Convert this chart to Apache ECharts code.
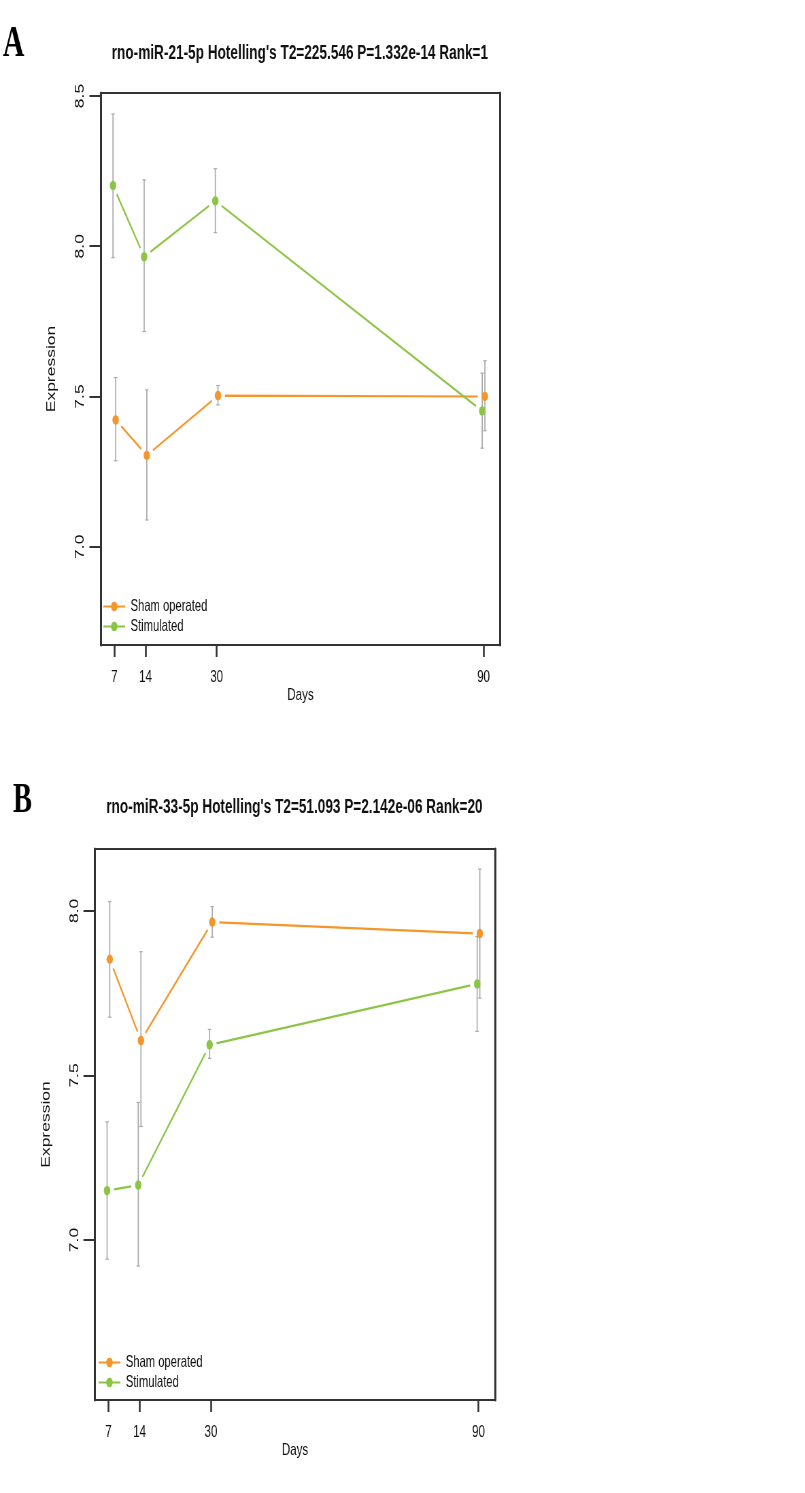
<!DOCTYPE html>
<html>
<head>
<meta charset="utf-8">
<script src="https://cdn.jsdelivr.net/npm/echarts@6/dist/echarts.min.js"></script>
<style>
html,body{margin:0;padding:0;overflow:hidden;background:#fff;width:805px;height:1493px;}
#chart{width:1184px;height:1493px;transform:scaleX(0.68);transform-origin:0 0;}
</style>
</head>
<body>
<div id="chart"></div>
<script>
// ---- data ----
const days = [7, 14, 30, 90];
const xTicks = [7, 14, 30, 90];
const seriesNames = ['Sham operated', 'Stimulated'];

const titleA = "rno-miR-21-5p Hotelling's T2=225.546 P=1.332e-14 Rank=1";
const titleB = "rno-miR-33-5p Hotelling's T2=51.093 P=2.142e-06 Rank=20";

const yTicksA = [7.0, 7.5, 8.0, 8.5];
const yTicksB = [7.0, 7.5, 8.0];

const shamA = [7.422, 7.304, 7.503, 7.500];
const shamA_lo = [7.286, 7.089, 7.472, 7.386];
const shamA_hi = [7.563, 7.522, 7.536, 7.619];
const stimA = [8.202, 7.965, 8.151, 7.452];
const stimA_lo = [7.962, 7.716, 8.045, 7.328];
const stimA_hi = [8.440, 8.221, 8.258, 7.578];

const shamB = [7.853, 7.606, 7.966, 7.931];
const shamB_lo = [7.677, 7.345, 7.920, 7.735];
const shamB_hi = [8.028, 7.876, 8.013, 8.127];
const stimB = [7.150, 7.167, 7.593, 7.778];
const stimB_lo = [6.942, 6.921, 7.552, 7.634];
const stimB_hi = [7.359, 7.418, 7.640, 7.922];

// ---- style ----
const ORANGE = '#F5962A';
const GREEN = '#8CC545';
const BAR = '#ababab';
const INK = '#111111';
const FRAME = '#333333';
const FONT = '"Liberation Sans", Arial, Helvetica, sans-serif';
const dodge = { 'Sham operated': 0.3, 'Stimulated': -0.3 };

const chart = echarts.init(document.getElementById('chart'), null, { renderer: 'canvas' });

function pts(name, vals) { return days.map((d, i) => [d + dodge[name], vals[i]]); }
function bars(name, lo, hi) { return days.map((d, i) => [d + dodge[name], lo[i], hi[i]]); }

function errRender(params, api) {
  const x = api.value(0);
  const p1 = api.coord([x, api.value(1)]);
  const p2 = api.coord([x, api.value(2)]);
  const c = 2.6;
  const st = { stroke: BAR, lineWidth: 1.7 };
  return { type: 'group', children: [
    { type: 'line', shape: { x1: p1[0], y1: p1[1], x2: p2[0], y2: p2[1] }, style: st },
    { type: 'line', shape: { x1: p1[0] - c, y1: p1[1], x2: p1[0] + c, y2: p1[1] }, style: { stroke: BAR, lineWidth: 1.2 } },
    { type: 'line', shape: { x1: p2[0] - c, y1: p2[1], x2: p2[0] + c, y2: p2[1] }, style: { stroke: BAR, lineWidth: 1.2 } }
  ]};
}

function panelSeries(idx, sham, shamLo, shamHi, stim, stimLo, stimHi) {
  const defs = [
    ['Sham operated', ORANGE, sham, shamLo, shamHi],
    ['Stimulated', GREEN, stim, stimLo, stimHi]
  ];
  const out = [];
  defs.forEach(([name, color, v]) => {
    out.push({
      type: 'line', name, xAxisIndex: idx, yAxisIndex: idx * 2, data: pts(name, v),
      color, symbol: 'circle', symbolSize: 14, z: 2,
      lineStyle: { color, width: 2.2 },
      itemStyle: { color, borderColor: '#ffffff', borderWidth: 7 },
      emphasis: { disabled: true }, silent: true, animation: false
    });
  });
  defs.forEach(([name, color, v, lo, hi]) => {
    out.push({
      type: 'custom', name, xAxisIndex: idx, yAxisIndex: idx * 2,
      data: bars(name, lo, hi), renderItem: errRender, z: 3,
      encode: { x: 0, y: [1, 2] }, silent: true, animation: false
    });
  });
  defs.forEach(([name, color, v]) => {
    out.push({
      type: 'scatter', name, xAxisIndex: idx, yAxisIndex: idx * 2, data: pts(name, v),
      symbol: 'circle', symbolSize: 9.5, z: 4, itemStyle: { color, opacity: 1 },
      emphasis: { disabled: true }, silent: true, animation: false
    });
  });
  return out;
}

function xAxisDef(idx) {
  return {
    type: 'value', gridIndex: idx, min: 4, max: 93.7,
    axisLine: { show: false },
    splitLine: { show: false },
    axisTick: { show: true, customValues: xTicks, length: 12, lineStyle: { color: FRAME, width: 2.6 } },
    axisLabel: { customValues: xTicks, margin: 24, fontSize: 17, color: INK, fontFamily: FONT },
    name: 'Days', nameLocation: 'middle', nameGap: 39,
    nameTextStyle: { fontSize: 17, color: INK, fontFamily: FONT }
  };
}
function yAxisDefs(idx, min, max, ticks) {
  return [{
    type: 'value', gridIndex: idx, min, max, position: 'left',
    axisLine: { show: true, lineStyle: { color: FRAME, width: 3 } },
    splitLine: { show: false },
    axisTick: { show: true, customValues: ticks, length: 17, lineStyle: { color: FRAME, width: 2 } },
    axisLabel: { customValues: ticks, rotate: 90, margin: 21, fontSize: 17.5, color: INK, fontFamily: FONT,
      formatter: v => Number(v).toFixed(1) },
    name: 'Expression', nameLocation: 'middle', nameGap: 63, nameRotate: 90,
    nameTextStyle: { fontSize: 17.5, color: INK, fontFamily: FONT }
  }, {
    type: 'value', gridIndex: idx, min, max, position: 'right',
    axisLine: { show: true, lineStyle: { color: FRAME, width: 3 } },
    axisTick: { show: false }, axisLabel: { show: false }, splitLine: { show: false }
  }];
}

function legendDef(left, top) {
  return {
    orient: 'vertical', left, top, padding: 0, itemWidth: 32, itemHeight: 12, itemGap: 3,
    selectedMode: false, data: seriesNames,
    itemStyle: { borderWidth: 0 },
    textStyle: { fontSize: 16.5, color: INK, fontFamily: FONT, padding: [0, 0, 0, 3] }
  };
}

const option = {
  backgroundColor: '#ffffff',
  animation: false,
  grid: [
    { left: 148.5, top: 93, width: 586.8, height: 552, show: true, borderColor: FRAME, borderWidth: 2, containLabel: false },
    { left: 139.7, top: 849, width: 588.2, height: 551, show: true, borderColor: FRAME, borderWidth: 2, containLabel: false }
  ],
  xAxis: [xAxisDef(0), xAxisDef(1)],
  yAxis: [...yAxisDefs(0, 6.673, 8.51, yTicksA), ...yAxisDefs(1, 6.514, 8.188, yTicksB)],
  legend: [legendDef(151, 598), legendDef(144, 1354)],
  graphic: [
    { type: 'text', x: 4, y: 45, style: { text: 'A', font: 'bold 44px "Liberation Serif", "Times New Roman", serif', fill: '#000', textVerticalAlign: 'middle' } },
    { type: 'text', x: 441, y: 53, style: { text: titleA, font: 'bold 20px ' + FONT, fill: INK, textAlign: 'center', textVerticalAlign: 'middle' } },
    { type: 'text', x: 19, y: 801, style: { text: 'B', font: 'bold 42px "Liberation Serif", "Times New Roman", serif', fill: '#000', textVerticalAlign: 'middle' } },
    { type: 'text', x: 433, y: 807, style: { text: titleB, font: 'bold 20px ' + FONT, fill: INK, textAlign: 'center', textVerticalAlign: 'middle' } }
  ],
  series: [
    ...panelSeries(0, shamA, shamA_lo, shamA_hi, stimA, stimA_lo, stimA_hi),
    ...panelSeries(1, shamB, shamB_lo, shamB_hi, stimB, stimB_lo, stimB_hi)
  ]
};
chart.setOption(option);
</script>
</body>
</html>
